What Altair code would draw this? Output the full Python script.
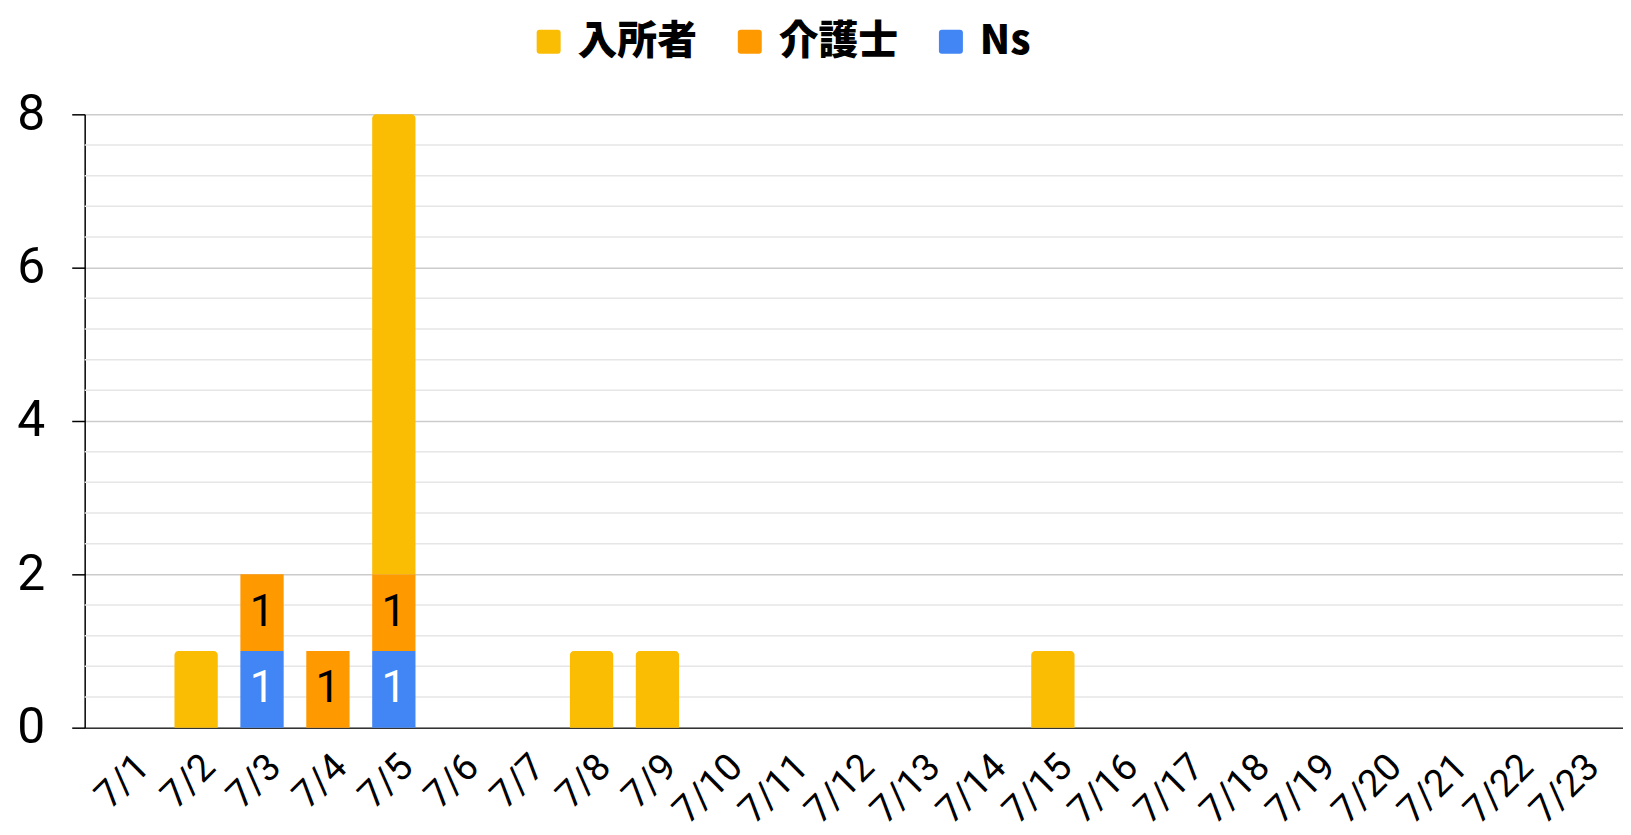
import altair as alt
import pandas as pd

dates = ["7/1","7/2","7/3","7/4","7/5","7/6","7/7","7/8","7/9","7/10","7/11","7/12",
         "7/13","7/14","7/15","7/16","7/17","7/18","7/19","7/20","7/21","7/22","7/23"]
series = ["入所者", "介護士", "Ns"]
colors = ["#FBBC04", "#FF9900", "#4285F4"]
stack_order = {"Ns": 0, "介護士": 1, "入所者": 2}

nyusho = [0,1,0,0,6,0,0,1,1,0,0,0,0,0,1,0,0,0,0,0,0,0,0]
kaigo  = [0,0,1,1,1,0,0,0,0,0,0,0,0,0,0,0,0,0,0,0,0,0,0]
ns     = [0,0,1,0,1,0,0,0,0,0,0,0,0,0,0,0,0,0,0,0,0,0,0]

major_ticks = [0, 2, 4, 6, 8]
minor_grid = [0.4, 0.8, 1.2, 1.6, 2.4, 2.8, 3.2, 3.6, 4.4, 4.8, 5.2, 5.6,
              6.4, 6.8, 7.2, 7.6]

rows = []
for s, vals in zip(series, [nyusho, kaigo, ns]):
    for d, v in zip(dates, vals):
        if v > 0:
            rows.append({"date": d, "series": s, "value": v, "order": stack_order[s]})
df = pd.DataFrame(rows)

W, H = 1545, 616

yscale = alt.Scale(domain=[0, 8], nice=False)
xscale = alt.Scale(domain=dates, paddingInner=0.343, paddingOuter=0.342, align=0.53)

y_axis = alt.Axis(title=None, values=major_ticks, format="d",
                  labelFontSize=50, labelFont="Roboto", labelColor="#000",
                  labelPadding=27, tickSize=13, tickColor="#000", tickWidth=1.5,
                  domainColor="#000", domainWidth=1.5,
                  gridColor="#cccccc", gridWidth=1.5, labelOverlap=False)

x_enc = alt.X("date:N", sort=dates, scale=xscale,
              axis=alt.Axis(title=None, labelAngle=-45, labelFontSize=38, labelFont="Roboto",
                            labelColor="#000", domainColor="#333", domainWidth=1.5, ticks=False,
                            labelPadding=20, grid=False))

minor = alt.Chart(pd.DataFrame({"v": minor_grid})).mark_rule(color="#e6e6e6", strokeWidth=1.5).encode(
    y=alt.Y("v:Q", scale=yscale, axis=y_axis),
    x=alt.value(0), x2=alt.value(W),
)

base = alt.Chart(df).transform_stack(
    stack="value", groupby=["date"], as_=["y0", "y1"],
    sort=[alt.SortField("order", order="ascending")]
).transform_calculate(mid="(datum.y0 + datum.y1) / 2")

y_enc = alt.Y("y0:Q", scale=yscale, axis=y_axis)

color_enc = alt.Color("series:N", scale=alt.Scale(domain=series, range=colors),
                      legend=alt.Legend(title=None, orient="none", direction="horizontal",
                                        legendX=446, legendY=-93,
                                        symbolType="M-0.75,-1H0.75Q1,-1,1,-0.75V0.75Q1,1,0.75,1H-0.75Q-1,1,-1,0.75V-0.75Q-1,-1,-0.75,-1Z",
                                        symbolSize=580, symbolStrokeWidth=0,
                                        labelFont="Noto Sans CJK JP", labelFontWeight=900,
                                        labelFontSize=40, labelColor="#000", labelOffset=9,
                                        columnPadding=33))

bars_low = base.transform_filter("datum.series != '入所者'").mark_bar().encode(
    x=x_enc, y=y_enc, y2="y1:Q", color=color_enc)

bars_top = base.transform_filter("datum.series == '入所者'").mark_bar(
    cornerRadiusTopLeft=4, cornerRadiusTopRight=4).encode(
    x=x_enc, y=y_enc, y2="y1:Q", color=color_enc)

texts = base.transform_filter("datum.series != '入所者'").mark_text(
    fontSize=44, font="Roboto", baseline="middle", align="center"
).encode(
    x=alt.X("date:N", sort=dates, scale=xscale),
    y=alt.Y("mid:Q", scale=yscale),
    text=alt.Text("value:Q"),
    color=alt.condition("datum.series == 'Ns'", alt.value("#ffffff"), alt.value("#000000")),
)

chart = alt.layer(minor, bars_low, bars_top, texts).properties(
    width=W, height=H,
    padding={"left": 77, "top": 105, "right": 0, "bottom": 106},
    autosize=alt.AutoSizeParams(type="none"),
).configure_view(stroke=None)

chart.save("out.html", embed_options={"renderer": "svg", "actions": False})
